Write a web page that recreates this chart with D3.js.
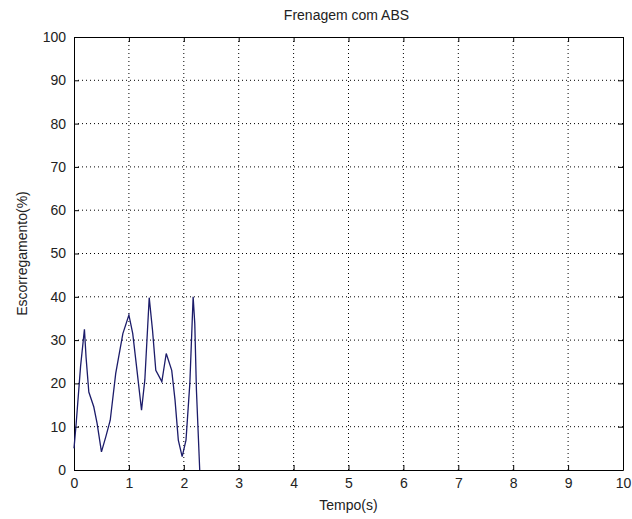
<!DOCTYPE html>
<html>
<head>
<meta charset="utf-8">
<script src="https://cdn.jsdelivr.net/npm/d3@7"></script>
<style>
  body { margin:0; background:#fff; }
  svg text { font-family: "Liberation Sans", Arial, sans-serif; fill:#222; }
</style>
</head>
<body>
<svg id="chart" width="632" height="519"></svg>
<script>
// data
var tempo = [0, 0.04, 0.12, 0.19, 0.22, 0.27, 0.36, 0.42, 0.50, 0.58, 0.66, 0.76, 0.89, 1.0, 1.07, 1.14, 1.23,
             1.29, 1.37, 1.43, 1.49, 1.60, 1.68, 1.78, 1.84, 1.90, 1.97, 2.04, 2.11, 2.17, 2.20, 2.23, 2.29];
var escorregamento = [5, 10.8, 24, 32.5, 26, 18, 14.6, 10.8, 4.2, 7.7, 11.5, 22.3, 31.5, 35.8, 31.5, 23.8, 13.8,
             20.8, 39.8, 32.3, 23, 20.4, 26.9, 23, 16.2, 6.9, 3.1, 6.9, 20, 40, 33.8, 18.5, 0];
var xticks = [0,1,2,3,4,5,6,7,8,9,10];
var yticks = [0,10,20,30,40,50,60,70,80,90,100];

var svg = d3.select("#chart");
var pL=74, pR=623, pT=37, pB=470;
var fs=14;

var x = d3.scaleLinear().domain([0,10]).range([pL,pR]);
var y = d3.scaleLinear().domain([0,100]).range([pB,pT]);

// grid (dotted)
var grid = svg.append("g").attr("class","grid");
grid.selectAll(".vg").data(xticks.slice(1,-1)).enter().append("line")
    .attr("x1",function(d){return x(d);}).attr("x2",function(d){return x(d);})
    .attr("y1",pT).attr("y2",pB)
    .attr("stroke","#000").attr("stroke-width",1).attr("stroke-dasharray","1,3");
grid.selectAll(".hg").data(yticks.slice(1,-1)).enter().append("line")
    .attr("y1",function(d){return y(d);}).attr("y2",function(d){return y(d);})
    .attr("x1",pL).attr("x2",pR)
    .attr("stroke","#000").attr("stroke-width",1).attr("stroke-dasharray","1,3");

// axes box with inward ticks
var xb = d3.axisBottom(x).tickValues(xticks).tickSizeInner(-5).tickSizeOuter(0).tickPadding(8);
var xt = d3.axisTop(x).tickValues(xticks).tickSizeInner(-5).tickSizeOuter(0).tickFormat("");
var yl = d3.axisLeft(y).tickValues(yticks).tickSizeInner(-5).tickSizeOuter(0).tickPadding(8);
var yr = d3.axisRight(y).tickValues(yticks).tickSizeInner(-5).tickSizeOuter(0).tickFormat("");

function style(g){
  g.selectAll("path").attr("stroke","#000");
  g.selectAll("line").attr("stroke","#000");
  g.selectAll("text").attr("font-size",fs).attr("fill","#222")
   .attr("font-family","Liberation Sans, Arial, sans-serif");
}
svg.append("g").attr("transform","translate(0,"+pB+")").call(xb).call(style);
svg.append("g").attr("transform","translate(0,"+pT+")").call(xt).call(style);
svg.append("g").attr("transform","translate("+pL+",0)").call(yl).call(style);
svg.append("g").attr("transform","translate("+pR+",0)").call(yr).call(style);

// series
var pts = tempo.map(function(t,i){ return [t, escorregamento[i]]; });
svg.append("path").datum(pts)
   .attr("fill","none").attr("stroke","#1c1c6a").attr("stroke-width",1.3)
   .attr("d", d3.line().x(function(d){return x(d[0]);}).y(function(d){return y(d[1]);}));

// labels
svg.append("text").attr("x",(pL+pR)/2-2).attr("y",20).attr("text-anchor","middle")
   .attr("font-size",fs).text("Frenagem com ABS");
svg.append("text").attr("x",(pL+pR)/2).attr("y",510).attr("text-anchor","middle")
   .attr("font-size",fs).text("Tempo(s)");
svg.append("text").attr("transform","translate(27,"+((pT+pB)/2)+") rotate(-90)")
   .attr("text-anchor","middle").attr("font-size",fs).text("Escorregamento(%)");
</script>
</body>
</html>
